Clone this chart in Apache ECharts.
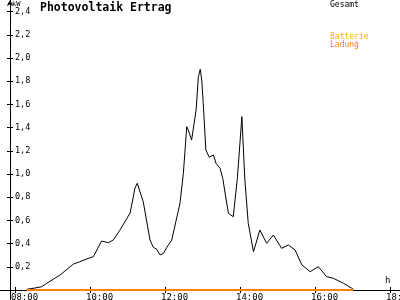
<!DOCTYPE html>
<html>
<head>
<meta charset="utf-8">
<script src="https://cdn.jsdelivr.net/npm/echarts@6/dist/echarts.min.js"></script>
<style>html,body{margin:0;padding:0;background:#fff}#c{width:400px;height:300px}</style>
</head>
<body>
<div id="c"></div>
<script>
const titleText = 'Photovoltaik Ertrag';
const seriesNames = ['Gesamt', 'Batterie', 'Ladung'];
const xTickHours = [8, 10, 12, 14, 16, 18];
const yTickValues = [0.2, 0.4, 0.6, 0.8, 1.0, 1.2, 1.4, 1.6, 1.8, 2.0, 2.2, 2.4];
const gesamtHours = [8.31,8.53,8.71,8.85,9.2,9.56,9.73,10.0,10.09,10.31,10.49,10.62,10.8,11.07,11.2,11.26,11.42,11.6,11.69,11.78,11.87,11.96,12.05,12.18,12.4,12.49,12.58,12.62,12.71,12.76,12.83,12.89,12.94,12.98,13.02,13.09,13.18,13.29,13.36,13.47,13.54,13.69,13.82,13.93,14.05,14.13,14.22,14.36,14.53,14.71,14.89,15.11,15.29,15.47,15.65,15.87,16.09,16.31,16.49,16.76,16.98,17.02];
const gesamtKW = [0.006,0.017,0.028,0.058,0.129,0.224,0.244,0.278,0.287,0.422,0.408,0.431,0.517,0.664,0.879,0.92,0.761,0.431,0.368,0.351,0.302,0.316,0.368,0.431,0.747,1.006,1.408,1.379,1.293,1.308,1.552,1.839,1.903,1.81,1.609,1.207,1.144,1.164,1.092,1.049,0.963,0.661,0.632,0.963,1.494,0.948,0.575,0.33,0.517,0.403,0.474,0.359,0.388,0.345,0.216,0.158,0.201,0.115,0.101,0.058,0.015,0.006];
const ladungHours = [8.31, 17.02];
const ladungKW = [0, 0];
const batterieHours = [];
const batterieKW = [];

const zip = (a, b) => a.map((v, i) => [v, b[i]]);
const mono = 'DejaVu Sans Mono';
const X_MIN = 7.6, X_MAX = 18.2667, LABEL_SHIFT = 0.1067;
const Y_MIN = -0.0862, Y_MAX = 2.5;
const fmtHour = v => (v < 10 ? '0' : '') + Math.round(v) + ':00';
const fmtKW = v => v.toFixed(1).replace('.', ',');

const chart = echarts.init(document.getElementById('c'), null, {renderer: 'canvas'});
chart.setOption({
  animation: false,
  backgroundColor: '#fff',
  title: {
    text: titleText, left: 40, top: 2, padding: 0,
    textStyle: {fontFamily: mono, fontSize: 11.5, fontWeight: 'bold', color: '#000'}
  },
  legend: [
    {
      data: [{name: seriesNames[0], textStyle: {color: '#000'}}],
      left: 325, top: 0, padding: 0, itemWidth: 0, itemHeight: 9, icon: 'rect',
      selectedMode: false,
      textStyle: {fontFamily: mono, fontSize: 8, lineHeight: 9}
    },
    {
      data: [{name: seriesNames[1], textStyle: {color: '#FFB000'}}, {name: seriesNames[2], textStyle: {color: '#FF8000'}}],
      orient: 'vertical', left: 325, top: 32.5, padding: 0, itemGap: 0, itemWidth: 0, itemHeight: 8, icon: 'rect',
      selectedMode: false,
      textStyle: {fontFamily: mono, fontSize: 8, lineHeight: 8}
    }
  ],
  grid: {left: 0, right: 0, top: 0, bottom: 0, containLabel: false, outerBoundsMode: 'none'},
  xAxis: [
    {
      type: 'value', position: 'bottom', min: X_MIN, max: X_MAX, offset: -10,
      name: 'h', nameLocation: 'end', nameGap: -15,
      nameTextStyle: {fontFamily: mono, fontSize: 9, color: '#000', align: 'left', verticalAlign: 'bottom', padding: [0, 0, 5, 0]},
      axisLine: {show: true, onZero: false, lineStyle: {color: '#000', width: 1}},
      axisTick: {show: true, inside: false, length: 3, customValues: xTickHours, lineStyle: {color: '#000'}},
      axisLabel: {show: false},
      splitLine: {show: false}
    },
    {
      type: 'value', position: 'bottom', min: X_MIN, max: X_MAX, offset: -10,
      axisLine: {show: false, onZero: false},
      axisTick: {show: true, inside: true, length: 3, customValues: xTickHours, lineStyle: {color: '#000'}},
      axisLabel: {show: false},
      splitLine: {show: false}
    },
    {
      type: 'value', position: 'bottom', min: X_MIN + LABEL_SHIFT, max: X_MAX + LABEL_SHIFT, offset: -10,
      axisLine: {show: false, onZero: false},
      axisTick: {show: false},
      axisLabel: {show: true, customValues: xTickHours, formatter: fmtHour, align: 'left', margin: 3,
        fontFamily: mono, fontSize: 9, color: '#000'},
      splitLine: {show: false}
    }
  ],
  yAxis: [
    {
      type: 'value', position: 'left', min: Y_MIN, max: Y_MAX, offset: -10,
      name: 'kW', nameLocation: 'end', nameGap: -2,
      nameTextStyle: {fontFamily: mono, fontSize: 7, color: '#000', align: 'left', verticalAlign: 'top', padding: [0, 0, 0, 2]},
      axisLine: {show: true, onZero: false, symbol: ['none', 'arrow'], symbolSize: [5, 6], lineStyle: {color: '#000', width: 1}},
      axisTick: {show: true, inside: false, length: 3, customValues: yTickValues, lineStyle: {color: '#000'}},
      axisLabel: {show: true, inside: true, margin: 5, customValues: yTickValues, formatter: fmtKW,
        fontFamily: mono, fontSize: 8.5, color: '#000'},
      splitLine: {show: false}
    },
    {
      type: 'value', position: 'left', min: Y_MIN, max: Y_MAX, offset: -10,
      axisLine: {show: false, onZero: false},
      axisTick: {show: true, inside: true, length: 3, customValues: yTickValues, lineStyle: {color: '#000'}},
      axisLabel: {show: false},
      splitLine: {show: false}
    }
  ],
  series: [
    {
      name: seriesNames[0], type: 'line', xAxisIndex: 0, yAxisIndex: 0,
      data: zip(gesamtHours, gesamtKW), showSymbol: false, smooth: false,
      lineStyle: {color: '#000', width: 1}, itemStyle: {color: '#000'}
    },
    {
      name: seriesNames[1], type: 'line', xAxisIndex: 0, yAxisIndex: 0,
      data: zip(batterieHours, batterieKW), showSymbol: false,
      lineStyle: {color: '#FFB000', width: 2}, itemStyle: {color: '#FFB000'}
    },
    {
      name: seriesNames[2], type: 'line', xAxisIndex: 0, yAxisIndex: 0,
      data: zip(ladungHours, ladungKW), showSymbol: false,
      lineStyle: {color: '#FF8000', width: 2}, itemStyle: {color: '#FF8000'}
    }
  ]
});
</script>
</body>
</html>
